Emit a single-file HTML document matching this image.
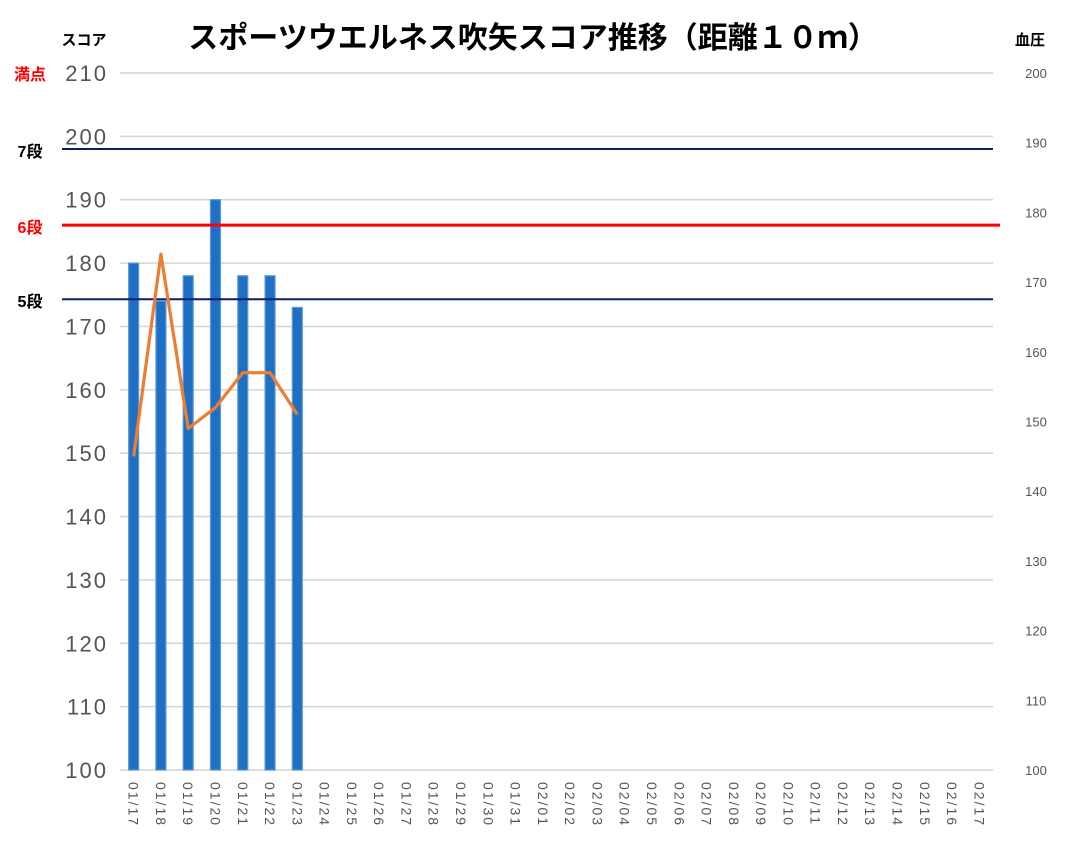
<!DOCTYPE html>
<html><head><meta charset="utf-8"><style>
body{margin:0;background:#fff;}
svg text{font-family:"Liberation Sans","Noto Sans CJK JP",sans-serif;}
</style></head><body>
<svg id="chart" width="1080" height="859" viewBox="0 0 1080 859">
<text x="533" y="48" font-size="30" font-weight="bold" text-anchor="middle" fill="#000">スポーツウエルネス吹矢スコア推移（距離１０ｍ）</text>
<text x="84" y="45" font-size="15" font-weight="bold" text-anchor="middle">スコア</text>
<text x="1030" y="45" font-size="15" font-weight="bold" text-anchor="middle">血圧</text>
<g id="grid"></g><g id="bars"></g><g id="refs"></g><g id="line"></g><g id="ticks"></g>
</svg>
<script>
const categories=["01/17","01/18","01/19","01/20","01/21","01/22","01/23","01/24","01/25","01/26","01/27","01/28","01/29","01/30","01/31","02/01","02/02","02/03","02/04","02/05","02/06","02/07","02/08","02/09","02/10","02/11","02/12","02/13","02/14","02/15","02/16","02/17"];
const scores=[180,174,178,190,178,178,173];
const bloodPressure=[145,174,149,152,157,157,151];
const leftTicks=[100,110,120,130,140,150,160,170,180,190,200,210];
const rightTicks=[100,110,120,130,140,150,160,170,180,190,200];
const refLevels=[{label:"7段",value:198,color:"#0a1f66",textColor:"#000"},{label:"6段",value:186,color:"#ff0000",textColor:"#ff0000"},{label:"5段",value:174.3,color:"#0a1f66",textColor:"#000"}];
const NS="http://www.w3.org/2000/svg";
const X0=120,X1=993,Y0=770,Y1=73;
const band=(X1-X0)/categories.length;
const xc=i=>X0+band*(i+0.5);
const yL=v=>Y0-(v-100)/110*(Y0-Y1);
const yR=v=>Y0-(v-100)/100*(Y0-Y1);
function mk(tag,attrs,parent,text){const e=document.createElementNS(NS,tag);for(const k in attrs)e.setAttribute(k,attrs[k]);if(text!==undefined)e.textContent=text;document.getElementById(parent).appendChild(e);return e;}
leftTicks.forEach(v=>{
 const l=mk('line',{x1:X0,x2:X1,y1:yL(v),y2:yL(v),stroke:'#d4d4d4','stroke-width':1.5},'grid');
 
 
 const t=mk('text',{x:108,y:yL(v)+8,'font-size':22,'text-anchor':'end',fill:'#555','letter-spacing':'2'},'ticks',String(v));
 
 
});
const m=mk('text',{x:30,y:yL(210)+7,'font-size':16,'font-weight':'bold','text-anchor':'middle',fill:'#ff0000'},'ticks','満点');


rightTicks.forEach(v=>{
 const t=mk('text',{x:1036,y:yR(v)+5,'font-size':13,'text-anchor':'middle',fill:'#555'},'ticks',String(v));
 
 
});
categories.forEach((c,i)=>{
 const t=mk('text',{x:0,y:0,'font-size':14,fill:'#555','letter-spacing':'2',transform:`translate(${xc(i)-5},782) rotate(90)`},'ticks',c);
 
 
});
scores.forEach((v,i)=>{
 const b=mk('rect',{x:xc(i)-5,y:yL(v),width:10,height:Y0-yL(v),fill:'#1f6fc4',stroke:'#5b9bd5','stroke-width':1.2},'bars');
 
 
});
refLevels.forEach(r=>{
 const l=mk('line',{x1:62,x2:r.color==='#ff0000'?1000:993,y1:yL(r.value),y2:yL(r.value),stroke:r.color,'stroke-width':r.color==='#ff0000'?3:2},'refs');
 
 
 const t=mk('text',{x:30,y:yL(r.value)+8,'font-size':16,'font-weight':'bold','text-anchor':'middle',fill:r.textColor},'refs',r.label);
 
 
});
const p=mk('polyline',{points:bloodPressure.map((v,i)=>xc(i)+','+yR(v)).join(' '),fill:'none',stroke:'#ed7d31','stroke-width':3.2,'stroke-linejoin':'round'},'line');


</script>
</body></html>
